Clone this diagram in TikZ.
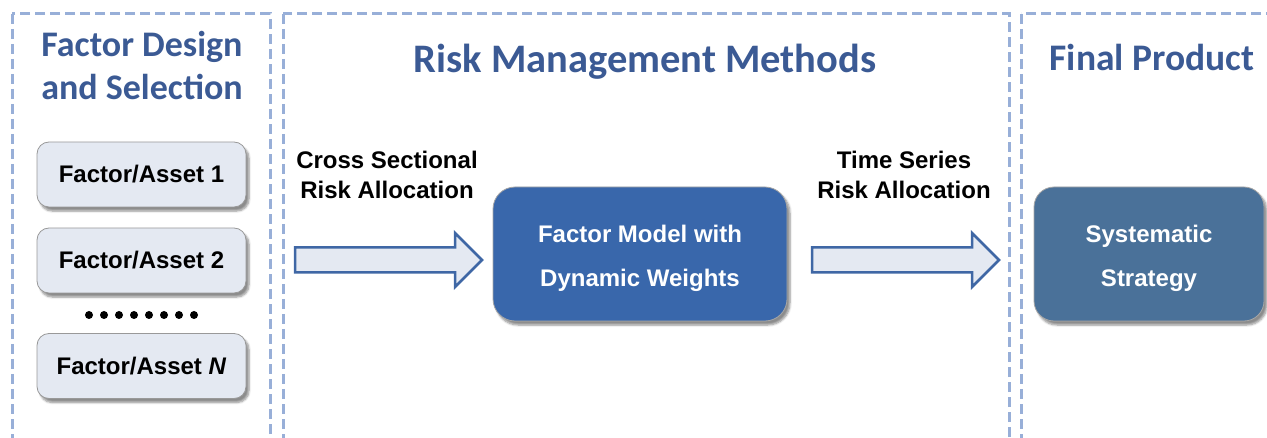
\documentclass[tikz,border=0pt]{standalone}
\usepackage{fontspec}
\setmainfont{Liberation Sans}
\newfontfamily\headfont{Carlito}
\usetikzlibrary{shadows.blur}
\definecolor{headblue}{HTML}{3B5A94}
\definecolor{dashblue}{HTML}{98AFD8}
\definecolor{boxfill}{HTML}{E4E9F2}
\definecolor{modelblue}{HTML}{3967AB}
\definecolor{stratblue}{HTML}{4A7199}
\definecolor{arrowline}{HTML}{3F67A5}
\begin{document}
\begin{tikzpicture}[x=1pt, y=-1pt,
    panel/.style={draw=dashblue, line width=3pt, dash pattern=on 10pt off 5pt},
    heading/.style={text=headblue, align=center, font=\headfont\bfseries\fontsize{36}{43}\selectfont},
    allocnote/.style={align=center, font=\bfseries\fontsize{24}{30}\selectfont},
    boxshadow/.style={blur shadow={shadow xshift=3pt, shadow yshift=-4pt, shadow blur steps=6, shadow opacity=45}},
    factorbox/.style={boxshadow, draw=gray!80, line width=0.8pt, fill=boxfill, rounded corners=12pt,
      minimum width=209pt, minimum height=65pt, font=\bfseries\fontsize{24}{28}\selectfont},
    darkbox/.style={boxshadow, draw=gray!70, line width=0.8pt, rounded corners=22pt, minimum height=134pt,
      text=white, align=center, font=\bfseries\fontsize{24}{44}\selectfont},
    blockarr/.style={draw=arrowline, fill=boxfill, line width=2.5pt, line join=miter}]
  \useasboundingbox (0,0) rectangle (1267,438);
  \clip (0,0) rectangle (1267,438);
  % panels
  \draw[panel] (12,14) rectangle (270,470);
  \draw[panel] (283,14) rectangle (1009,470);
  \draw[panel] (1021,14) rectangle (1300,470);
  % headings
  \node[heading] (designhead) at (142,66) {Factor Design\\and Selection};
  \node[heading, font=\headfont\bfseries\fontsize{40.5}{43}\selectfont] (riskhead) at (645,62) {Risk Management Methods};
  \node[heading, font=\headfont\bfseries\fontsize{37.5}{43}\selectfont] (finalhead) at (1152,57) {Final Product};
  % factors
  \node[factorbox] (asset1) at (141.5,174.5) {Factor/Asset 1};
  \node[factorbox] (asset2) at (141.5,260.5) {Factor/Asset 2};
  \node[factorbox] (assetN) at (141.5,366) {Factor/Asset \textit{N}};
  \foreach \i in {0,...,7}
    \fill (89+\i*15,315) circle (4pt);
  % models
  \node[darkbox, fill=modelblue, minimum width=294pt] (model) at (640,254) {\rule{0pt}{26pt}Factor Model with\\Dynamic Weights};
  \node[darkbox, fill=stratblue, minimum width=230pt, rounded corners=20pt] (strategy) at (1149,254) {\rule{0pt}{26pt}Systematic\\Strategy};
  % arrows
  \node[allocnote] (csnote) at (387,175) {Cross Sectional\\Risk Allocation};
  \node[allocnote] (tsnote) at (904,175) {Time Series\\Risk Allocation};
  \coordinate (csstart) at (295,260);
  \coordinate (tsstart) at (812,260);
  \draw[blockarr] (csstart) ++(0,-12.5) -- ++(160,0) -- ++(0,-14.5) -- ++(27,27) -- ++(-27,27)
    -- ++(0,-14.5) -- ++(-160,0) -- cycle;
  \draw[blockarr] (tsstart) ++(0,-12.5) -- ++(160,0) -- ++(0,-14.5) -- ++(27,27) -- ++(-27,27)
    -- ++(0,-14.5) -- ++(-160,0) -- cycle;
\end{tikzpicture}
\end{document}
